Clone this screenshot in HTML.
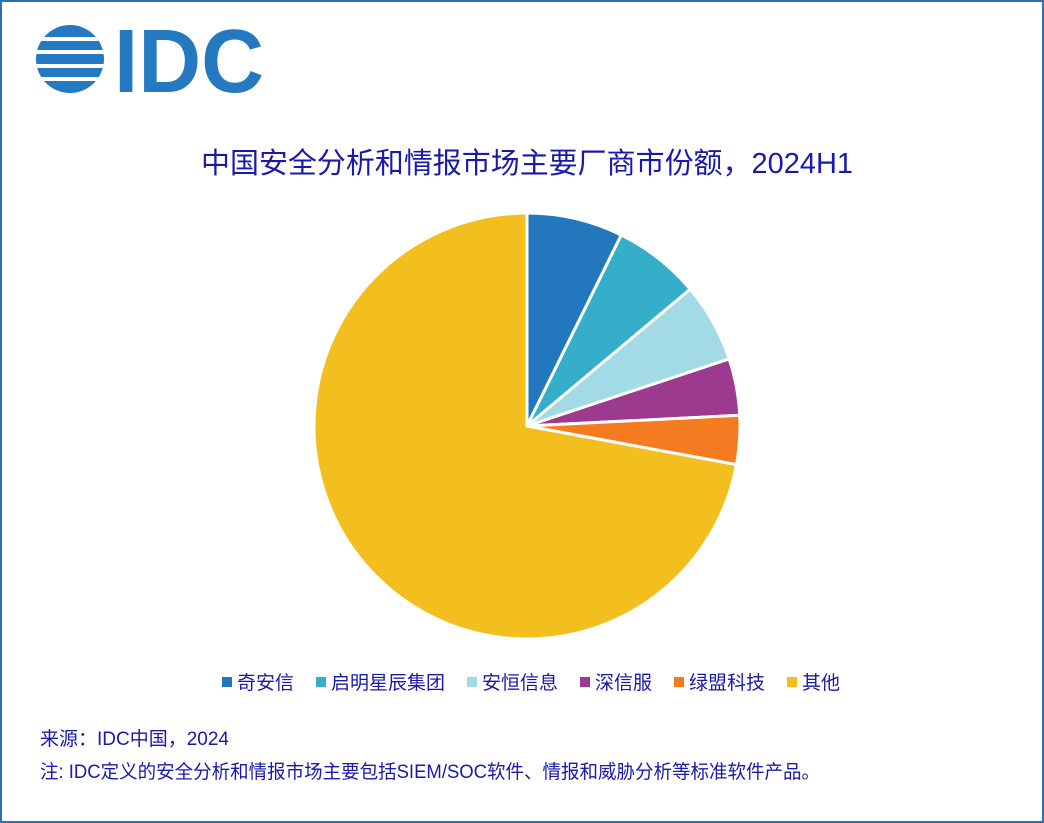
<!DOCTYPE html>
<html><head><meta charset="utf-8"><style>
body{margin:0;width:1044px;height:823px;overflow:hidden;background:#fff;font-family:"Liberation Sans","Noto Sans CJK SC",sans-serif}
#frame{position:absolute;left:0;top:0;width:1040px;height:819px;border:2px solid #2f6fae}
</style></head><body>
<div id="frame"></div>
<svg id="svg" width="1044" height="823" style="position:absolute;left:0;top:0">
<defs><clipPath id="lc"><circle cx="70" cy="59" r="34"/></clipPath></defs>
<g>
<g clip-path="url(#lc)"><rect x="30" y="20" width="80" height="80" fill="#2479c0"/>
<g stroke="#fff" stroke-width="4"><line x1="30" y1="39" x2="110" y2="39"/><line x1="30" y1="52" x2="110" y2="52"/><line x1="30" y1="66" x2="110" y2="66"/><line x1="30" y1="79" x2="110" y2="79"/></g></g>
<text x="114" y="92" font-size="90" font-weight="bold" fill="#2479c0" textLength="150" lengthAdjust="spacingAndGlyphs">IDC</text>
</g>
<text x="527" y="173" text-anchor="middle" font-size="29" fill="#1a1aa8" textLength="652" lengthAdjust="spacingAndGlyphs">中国安全分析和情报市场主要厂商市份额，2024H1</text>
<g id="pie"></g>
<g id="legend"></g>
<text x="40" y="745" font-size="19" fill="#1a1aa8">来源：IDC中国，2024</text>
<text x="40" y="778" font-size="19" fill="#1a1aa8" textLength="780" lengthAdjust="spacingAndGlyphs">注: IDC定义的安全分析和情报市场主要包括SIEM/SOC软件、情报和威胁分析等标准软件产品。</text>
</svg>
<script>
const categories=["奇安信","启明星辰集团","安恒信息","深信服","绿盟科技","其他"];
const shares=[7.3,6.6,6.0,4.3,3.7,72.1];
const colors=["#2277bd","#35aec9","#a2dae6","#9b3a8e","#f47b20","#f3bf1f"];
const NS="http://www.w3.org/2000/svg";
const cx=527,cy=426,r=213;
const total=shares.reduce((a,b)=>a+b,0);
const pie=document.getElementById('pie');
let a0=0;
shares.forEach((v,i)=>{
  const a1=a0+v/total*2*Math.PI;
  const p=(a)=>[cx+r*Math.sin(a),cy-r*Math.cos(a)];
  const [x0,y0]=p(a0),[x1,y1]=p(a1);
  const path=document.createElementNS(NS,'path');
  path.setAttribute('d',`M${cx},${cy}L${x0},${y0}A${r},${r} 0 ${a1-a0>Math.PI?1:0} 1 ${x1},${y1}Z`);
  path.setAttribute('fill',colors[i]);path.setAttribute('stroke','#fff');path.setAttribute('stroke-width','3');
  
  
  pie.appendChild(path);
  a0=a1;
});
const leg=document.getElementById('legend');
let x=222;
categories.forEach((c,i)=>{
  const g=document.createElementNS(NS,'g');
  
  
  const rc=document.createElementNS(NS,'rect');
  rc.setAttribute('x',x);rc.setAttribute('y',677);rc.setAttribute('width',10);rc.setAttribute('height',10);rc.setAttribute('fill',colors[i]);
  const t=document.createElementNS(NS,'text');
  t.setAttribute('x',x+15);t.setAttribute('y',689);t.setAttribute('font-size','19');t.setAttribute('fill','#1a1aa8');
  t.textContent=c;
  g.appendChild(rc);g.appendChild(t);leg.appendChild(g);
  x+=15+c.length*19+22;
});
</script>
</body></html>
